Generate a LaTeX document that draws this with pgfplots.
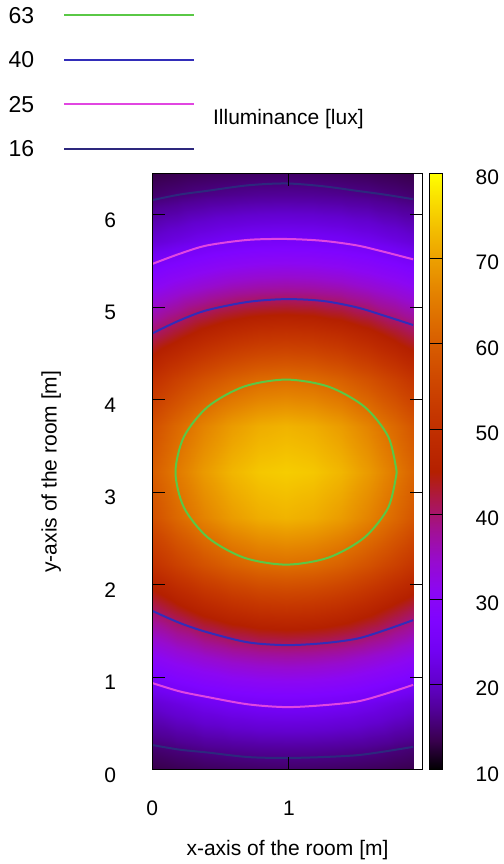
\documentclass[border=0pt]{standalone}
\usepackage{fontspec}
\setmainfont{Liberation Sans}
\usepackage{pgfplots}
\usepackage{pgfplotstable}
\pgfplotsset{compat=1.18}
\definecolor{c63}{RGB}{90,200,70}
\definecolor{c40}{RGB}{50,45,185}
\definecolor{c25}{RGB}{225,70,225}
\definecolor{c16}{RGB}{45,40,125}
\pgfplotsset{/pgf/number format/assume math mode=true}

\pgfplotstableread{
x y v
0 0 13.2
0.18 0 13.7
0.38 0 14.1
0.58 0 14.4
0.78 0 14.6
0.98 0 14.7
1.18 0 14.6
1.38 0 14.4
1.58 0 14.1
1.78 0 13.7
1.91 0 13.4
0 0.22 14.9
0.18 0.22 15.6
0.38 0.22 16.3
0.58 0.22 16.7
0.78 0.22 17.0
0.98 0.22 17.1
1.18 0.22 17.0
1.38 0.22 16.7
1.58 0.22 16.3
1.78 0.22 15.6
1.91 0.22 15.1
0 0.72 21.0
0.18 0.72 22.4
0.38 0.72 23.8
0.58 0.72 24.8
0.78 0.72 25.4
0.98 0.72 25.6
1.18 0.72 25.4
1.38 0.72 24.8
1.58 0.72 23.8
1.78 0.72 22.4
1.91 0.72 21.4
0 1.22 30.4
0.18 1.22 32.6
0.38 1.22 34.4
0.58 1.22 35.9
0.78 1.22 36.7
0.98 1.22 37.0
1.18 1.22 36.7
1.38 1.22 35.9
1.58 1.22 34.4
1.78 1.22 32.6
1.91 1.22 31.1
0 1.72 40.2
0.18 1.72 43.2
0.38 1.72 46.3
0.58 1.72 48.6
0.78 1.72 50.0
0.98 1.72 50.5
1.18 1.72 50.0
1.38 1.72 48.6
1.58 1.72 46.3
1.78 1.72 43.2
1.91 1.72 41.1
0 2.22 50.3
0.18 2.22 54.2
0.38 2.22 57.8
0.58 2.22 60.6
0.78 2.22 62.4
0.98 2.22 63.0
1.18 2.22 62.4
1.38 2.22 60.6
1.58 2.22 57.8
1.78 2.22 54.2
1.91 2.22 51.4
0 2.72 57.4
0.18 2.72 61.9
0.38 2.72 66.1
0.58 2.72 69.4
0.78 2.72 71.4
0.98 2.72 72.2
1.18 2.72 71.4
1.38 2.72 69.4
1.58 2.72 66.1
1.78 2.72 61.9
1.91 2.72 58.7
0 3.22 60.0
0.18 3.22 64.7
0.38 3.22 69.2
0.58 3.22 72.5
0.78 3.22 74.4
0.98 3.22 75.0
1.18 3.22 74.4
1.38 3.22 72.5
1.58 3.22 69.2
1.78 3.22 64.7
1.91 3.22 61.3
0 3.72 57.4
0.18 3.72 61.9
0.38 3.72 66.1
0.58 3.72 69.4
0.78 3.72 71.4
0.98 3.72 72.2
1.18 3.72 71.4
1.38 3.72 69.4
1.58 3.72 66.1
1.78 3.72 61.9
1.91 3.72 58.7
0 4.22 50.3
0.18 4.22 54.2
0.38 4.22 57.8
0.58 4.22 60.6
0.78 4.22 62.4
0.98 4.22 63.0
1.18 4.22 62.4
1.38 4.22 60.6
1.58 4.22 57.8
1.78 4.22 54.2
1.91 4.22 51.4
0 4.72 40.2
0.18 4.72 43.2
0.38 4.72 46.3
0.58 4.72 48.6
0.78 4.72 50.0
0.98 4.72 50.5
1.18 4.72 50.0
1.38 4.72 48.6
1.58 4.72 46.3
1.78 4.72 43.2
1.91 4.72 41.1
0 5.22 30.4
0.18 5.22 32.6
0.38 5.22 34.4
0.58 5.22 35.9
0.78 5.22 36.7
0.98 5.22 37.0
1.18 5.22 36.7
1.38 5.22 35.9
1.58 5.22 34.4
1.78 5.22 32.6
1.91 5.22 31.1
0 5.72 21.0
0.18 5.72 22.4
0.38 5.72 23.8
0.58 5.72 24.8
0.78 5.72 25.4
0.98 5.72 25.6
1.18 5.72 25.4
1.38 5.72 24.8
1.58 5.72 23.8
1.78 5.72 22.4
1.91 5.72 21.4
0 6.22 14.9
0.18 6.22 15.6
0.38 6.22 16.3
0.58 6.22 16.7
0.78 6.22 17.0
0.98 6.22 17.1
1.18 6.22 17.0
1.38 6.22 16.7
1.58 6.22 16.3
1.78 6.22 15.6
1.91 6.22 15.1
0 6.45 13.1
0.18 6.45 13.6
0.38 6.45 14.0
0.58 6.45 14.3
0.78 6.45 14.5
0.98 6.45 14.6
1.18 6.45 14.5
1.38 6.45 14.3
1.58 6.45 14.0
1.78 6.45 13.6
1.91 6.45 13.3
}\heat

\begin{document}
\fontsize{10.5}{12.6}\selectfont
\begin{tikzpicture}
\useasboundingbox (0,0) rectangle (252pt,432pt);
\begin{axis}[
  at={(76.15pt,47pt)}, anchor=south west,
  scale only axis, width=135.2pt, height=298.35pt,
  xmin=0, xmax=1.98, ymin=0, ymax=6.45,
  xtick={0,1}, ytick={0,1,...,6},
  tick align=inside, major tick length=6.5pt,
  tick style={black, line width=0.5pt},
  axis line style={black, line width=0.5pt},
  axis on top,
  xticklabel style={yshift=-11.6pt},
  yticklabel style={xshift=-14.4pt, yshift=-2.5pt},
  xlabel={x-axis of the room [m]},
  ylabel={y-axis of the room [m]},
  xlabel style={at={(axis description cs:0.5,-0.1441)}, anchor=base},
  ylabel style={at={(axis description cs:-0.3536,0.5)}, rotate=0, anchor=base},
  colormap={gnuplot}{rgb=(0,0,0) rgb=(0.224,0.0001,0.309) rgb=(0.316,0.001,0.588) rgb=(0.387,0.0034,0.809) rgb=(0.447,0.008,0.951) rgb=(0.5,0.0156,1) rgb=(0.548,0.027,0.951) rgb=(0.592,0.043,0.809) rgb=(0.632,0.064,0.588) rgb=(0.671,0.091,0.309) rgb=(0.707,0.125,0) rgb=(0.742,0.166,0) rgb=(0.775,0.216,0) rgb=(0.806,0.275,0) rgb=(0.837,0.343,0) rgb=(0.866,0.422,0) rgb=(0.894,0.512,0) rgb=(0.922,0.614,0) rgb=(0.949,0.729,0) rgb=(0.975,0.857,0) rgb=(1,1,0)},
  point meta min=10, point meta max=80,
  colorbar,
  colorbar shift/.style={xshift=3.3pt},
  colorbar style={
    at={(parent axis.north east)}, anchor=north west,
    width=6.7pt,
    ytick={10,20,...,80},
    ytick pos=both, yticklabel pos=right,
    tick align=inside, major tick length=3.4pt,
    tick style={black, line width=0.5pt},
    axis line style={black, line width=0.5pt},
    yticklabel style={xshift=12.75pt, yshift=-2pt},
  },
  legend plot pos=right, legend cell align=left,
  legend image code/.code={\draw[#1] (0pt,0pt) -- (65pt,0pt);},
  legend style={at={(axis description cs:-0.5325,1.279)}, anchor=north west,
    draw=none, fill=none, inner sep=0pt, row sep=14.15pt, column sep=14.6pt,
    font=\fontsize{11.5}{13.5}\selectfont,
    nodes={inner sep=0pt, text height=8.1pt, text depth=0pt}},
]
\addplot[surf, shader=interp, mesh/rows=15, mesh/cols=11, point meta=explicit, forget plot]
  table[x=x, y=y, meta=v] {\heat};

\addplot[c63, line width=1pt, smooth] coordinates {
(1.79,3.22) (1.728,3.603) (1.553,3.927) (1.290,4.144) (0.98,4.22) (0.670,4.144) (0.407,3.927) (0.232,3.603) (0.17,3.22) (0.232,2.837) (0.407,2.513) (0.670,2.296) (0.98,2.22) (1.290,2.296) (1.553,2.513) (1.728,2.837) (1.79,3.22)};
\addlegendentry{63}
\addplot[c40, line width=1pt, smooth] coordinates {
(0,4.72) (0.2,4.86) (0.4,4.97) (0.7,5.06) (0.98,5.09) (1.25,5.07) (1.5,5.00) (1.7,4.91) (1.91,4.81)};
\addlegendentry{40}
\addplot[c25, line width=1pt, smooth] coordinates {
(0,5.47) (0.2,5.58) (0.4,5.67) (0.7,5.73) (0.98,5.74) (1.25,5.72) (1.5,5.67) (1.7,5.60) (1.91,5.52)};
\addlegendentry{25}
\addplot[c16, line width=1pt, smooth] coordinates {
(0,6.16) (0.2,6.22) (0.4,6.26) (0.7,6.32) (0.98,6.34) (1.25,6.31) (1.5,6.26) (1.7,6.22) (1.91,6.17)};
\addlegendentry{16}
\addplot[c40, line width=1pt, smooth, forget plot] coordinates {
(0,1.72) (0.2,1.59) (0.4,1.49) (0.7,1.38) (0.98,1.35) (1.25,1.37) (1.5,1.42) (1.7,1.51) (1.91,1.62)};
\addplot[c25, line width=1pt, smooth, forget plot] coordinates {
(0,0.94) (0.2,0.85) (0.4,0.79) (0.7,0.71) (0.98,0.68) (1.25,0.70) (1.5,0.74) (1.7,0.82) (1.91,0.92)};
\addplot[c16, line width=1pt, smooth, forget plot] coordinates {
(0,0.27) (0.2,0.22) (0.4,0.19) (0.7,0.14) (0.98,0.13) (1.25,0.14) (1.5,0.16) (1.7,0.20) (1.91,0.25)};
\end{axis}
\node[anchor=base west, inner sep=0pt] at (106.35pt,369.5pt) {Illuminance [lux]};
\end{tikzpicture}
\end{document}
